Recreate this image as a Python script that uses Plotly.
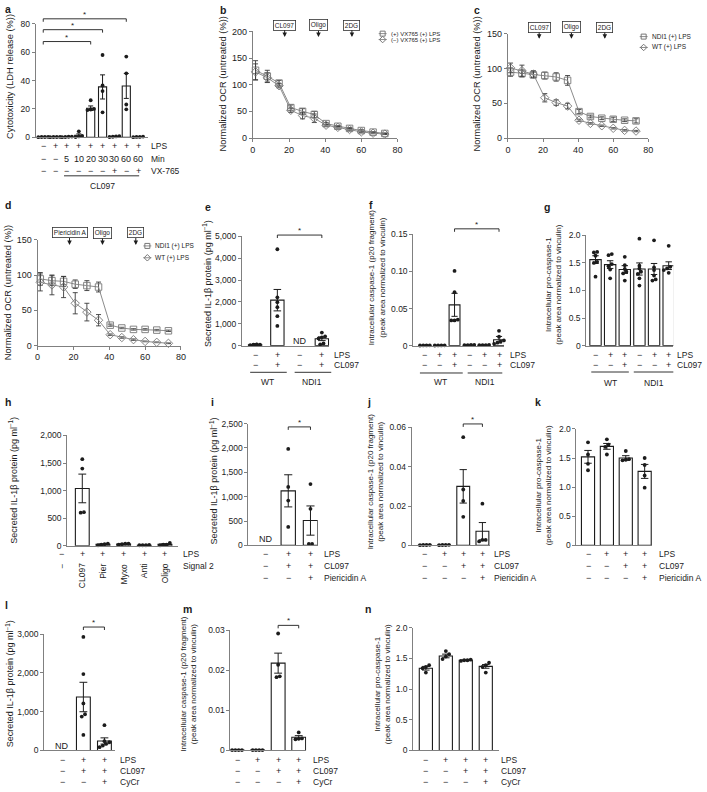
import plotly.graph_objects as go

W, H = 707, 792
FONT = "Liberation Sans, Arial, Helvetica, sans-serif"
AXC = "#808080"
INK = "#1c1c1c"
GLINE = "#8c8c8c"
GMK = "#777777"

# ------------------------------------------------------------------ data
# (a) LDH release
a_lps = ["−", "+", "+", "+", "+", "+", "+", "+", "+"]
a_min = ["−", "−", "5", "10", "20", "30", "30", "60", "60"]
a_vx765 = ["−", "−", "−", "−", "−", "−", "+", "−", "+"]
a_mean = [0.2, 0.2, 0.3, 1.4, 20.5, 35.5, 0.5, 36.2, 0.3]
a_sem = [0.1, 0.1, 0.2, 1.0, 1.6, 8.5, 0.3, 8.8, 0.2]
a_points = [[0.1, 0.2, 0.2, 0.3], [0.1, 0.2, 0.2, 0.3], [0.1, 0.2, 0.4, 0.5],
            [0.2, 0.6, 1.0, 4.2], [19.2, 19.6, 20.0, 26.1], [17.6, 32.6, 36.5, 58.0],
            [0.2, 0.4, 0.6, 0.8], [19.7, 23.1, 45.1, 56.9], [0.1, 0.3, 0.3, 0.5]]

# (b-d) OCR time courses
t_min = [1.5, 8, 14.5, 21, 27.5, 34, 40.5, 47, 53.5, 60, 66.5, 73]
b_vx_pos = [127, 116, 103, 57, 50, 44, 27, 22, 18, 14, 11, 8.5]
b_vx_pos_sem = [18, 11, 5, 5, 5, 6, 2, 1.5, 1.5, 1.5, 1, 1]
b_vx_neg = [124, 113, 98, 52, 42, 37, 24, 20, 16, 11.5, 9, 7.4]
b_vx_neg_sem = [15, 9, 4, 4, 6, 8, 1.5, 1.5, 1.5, 1, 1, 1]
c_ndi1 = [95, 93, 91, 90, 88, 83, 38, 31, 28.5, 27, 25.6, 24.7]
c_ndi1_sem = [6, 5, 4, 5, 6, 7, 3, 2, 2, 3, 2, 3]
c_wt = [101, 97, 92, 58, 51, 46, 25.6, 21, 17.6, 14, 11, 10]
c_wt_sem = [7, 8, 5, 6, 4, 4, 1.5, 1, 1, 1, 1, 1]
d_ndi1 = [94.5, 92, 91, 87, 85, 83, 29, 25, 23, 23, 22, 21]
d_ndi1_sem = [9, 7, 7, 6, 7, 7, 1.5, 1, 1, 1, 1, 1]
d_wt = [89.5, 86, 83, 60, 47.5, 36, 15.5, 11.5, 8.5, 6, 4.7, 3.3]
d_wt_sem = [12, 14, 15, 15, 12.5, 8, 1, 1, 1, 0.5, 0.5, 0.5]

# (e) secreted IL-1b, WT vs NDI1
e_lps = ["−", "+", "−", "+"]
e_cl097 = ["−", "+", "−", "+"]
e_mean = [40, 2080, None, 315]
e_sem = [8, 490, None, 85]
e_points = [[20, 30, 40, 45, 50, 60], [4410, 2210, 1990, 1760, 1350, 900], [],
            [600, 420, 380, 330, 100, 60]]

# (f) caspase-1 p20
f_lps = ["−", "+", "+", "−", "+", "+"]
f_cl097 = ["−", "−", "+", "−", "−", "+"]
f_mean = [0.0003, 0.0003, 0.055, 0.0008, 0.0008, 0.008]
f_sem = [0.0001, 0.0001, 0.0155, 0.0002, 0.0002, 0.0044]
f_points = [[0.0002, 0.0003, 0.0003, 0.0004], [0.0002, 0.0003, 0.0003, 0.0004],
            [0.1007, 0.072, 0.035, 0.034, 0.034], [0.0006, 0.0008, 0.0009, 0.001],
            [0.0006, 0.0008, 0.001, 0.0008], [0.020, 0.012, 0.007, 0.0055, 0.004, 0.0025]]

# (g) pro-caspase-1
g_mean = [1.56, 1.47, 1.38, 1.39, 1.39, 1.45]
g_sem = [0.07, 0.07, 0.07, 0.11, 0.10, 0.07]
g_points = [[1.70, 1.69, 1.63, 1.52, 1.50, 1.25], [1.66, 1.64, 1.48, 1.44, 1.38, 1.22],
            [1.61, 1.46, 1.39, 1.34, 1.31, 1.18], [1.94, 1.45, 1.40, 1.34, 1.30, 1.22, 1.09],
            [1.91, 1.42, 1.37, 1.27, 1.20, 1.18], [1.81, 1.47, 1.43, 1.40, 1.37, 1.32]]

# (h) signal 2 screen
h_lps = ["−", "+", "+", "+", "+", "+"]
h_signal2 = ["−", "CL097", "Pier", "Myxo", "Anti", "Oligo"]
h_mean = [None, 1040, 25, 30, 10, 25]
h_sem = [None, 260, 8, 6, 2, 10]
h_points = [[], [1570, 1400, 610, 600], [10, 40, 20, 30], [20, 40, 30, 40],
            [10, 15, 10, 10], [10, 50, 20, 20]]

# (i-k) piericidin A
pa_lps = ["−", "+", "+"]
pa_cl097 = ["−", "+", "+"]
pa_pier = ["−", "−", "+"]
i_mean = [None, 1120, 510]
i_sem = [None, 330, 300]
i_points = [[], [1980, 1200, 920, 380], [1260, 750, 30, 30]]
p4_lps = ["−", "+", "+", "+"]
p4_cl097 = ["−", "−", "+", "+"]
p4_third = ["−", "−", "−", "+"]
j_mean = [0.0002, 0.0002, 0.030, 0.0072]
j_sem = [0.0001, 0.0001, 0.0085, 0.0044]
j_points = [[0.0002, 0.0001, 0.0003, 0.0002], [0.0002, 0.0001, 0.0003, 0.0002],
            [0.055, 0.0284, 0.0226, 0.0145], [0.0212, 0.0028, 0.0028, 0.002]]
k_mean = [1.52, 1.70, 1.50, 1.27]
k_sem = [0.11, 0.05, 0.04, 0.12]
k_points = [[1.77, 1.56, 1.40, 1.29], [1.82, 1.73, 1.69, 1.56], [1.62, 1.48, 1.47, 1.46],
            [1.50, 1.38, 1.20, 0.99]]

# (l-n) CyCr
l_mean = [None, 1380, 245]
l_sem = [None, 380, 80]
l_points = [[], [2932, 1972, 1215, 935, 875, 400], [654, 240, 212, 170, 127, 85]]
m_mean = [0.0001, 0.0001, 0.0218, 0.0033]
m_sem = [0.0, 0.0, 0.0025, 0.0004]
m_points = [[0.0001, 0.0001, 0.0001, 0.0001], [0.0001, 0.0001, 0.0001, 0.0001],
            [0.0292, 0.0214, 0.0185, 0.0183], [0.0045, 0.003, 0.0029, 0.0028]]
n_mean = [1.34, 1.54, 1.47, 1.37]
n_sem = [0.03, 0.03, 0.006, 0.03]
n_points = [[1.39, 1.36, 1.34, 1.27], [1.62, 1.57, 1.53, 1.49], [1.48, 1.47, 1.47, 1.46],
            [1.43, 1.39, 1.36, 1.27]]

# ------------------------------------------------------------------ helpers
fig = go.Figure()
layout = dict(width=W, height=H, margin=dict(l=0, r=0, t=0, b=0), paper_bgcolor="white",
              plot_bgcolor="rgba(0,0,0,0)", showlegend=False,
              font=dict(family=FONT, size=9, color=INK))
annotations, shapes = [], []
n_ax = [0]


def X(px):
    return px / W


def Y(py):
    return 1 - py / H


def text(px, py, s, size=9, xa="center", ya="middle", angle=0):
    annotations.append(dict(x=X(px), y=Y(py), xref="paper", yref="paper", text=s, showarrow=False,
                            xanchor=xa, yanchor=ya, textangle=angle,
                            font=dict(family=FONT, size=size, color=INK)))


def letter(px, py, s):
    text(px, py, "<b>%s</b>" % s, size=10.5, xa="left")


def hline(x0, x1, py, color=INK, w=0.9):
    shapes.append(dict(type="line", xref="paper", yref="paper", x0=X(x0), x1=X(x1), y0=Y(py),
                       y1=Y(py), line=dict(color=color, width=w)))


def bracket(x0, x1, py):
    shapes.append(dict(type="path", xref="paper", yref="paper",
                       path="M%f,%f L%f,%f L%f,%f L%f,%f" % (X(x0), Y(py + 3), X(x0), Y(py), X(x1), Y(py),
                                                             X(x1), Y(py + 3)),
                       line=dict(color=INK, width=0.9)))
    text((x0 + x1) / 2, py - 4.5, "*", size=8)


def axes(L, R, ybot, ytop, xr, yr):
    n_ax[0] += 1
    s = "" if n_ax[0] == 1 else str(n_ax[0])
    layout["xaxis" + s] = dict(domain=[X(L), X(R)], range=xr, anchor="y" + s, showline=True,
                               linecolor=AXC, linewidth=1, showgrid=False, zeroline=False,
                               showticklabels=False, ticks="", fixedrange=True)
    layout["yaxis" + s] = dict(domain=[Y(ybot), Y(ytop)], range=yr, anchor="x" + s, showline=True,
                               linecolor=AXC, linewidth=1, showgrid=False, zeroline=False,
                               ticks="outside", ticklen=3, tickwidth=1, tickcolor=AXC,
                               tickfont=dict(size=8.5, family=FONT, color=INK), fixedrange=True)
    return "x" + s, "y" + s, s


def swarm(groups, step, ppu, d=3.3):
    xs, ys = [], []
    for i, pts in enumerate(groups):
        clusters = []
        for v in sorted(pts):
            if clusters and (v - clusters[-1][-1]) * ppu < d * 0.8 and len(clusters[-1]) < 4:
                clusters[-1].append(v)
            else:
                clusters.append([v])
        for cl in clusters:
            m = len(cl)
            for j, v in enumerate(cl):
                xs.append(i + (j - (m - 1) / 2) * d / step)
                ys.append(v)
    return xs, ys


def bar_panel(geo, mean, sem, pts, tv, tt):
    L, R, c0, step, y0, yt, ymax, bw = geo
    xa, ya, s = axes(L, R, y0, yt, [(L - c0) / step, (R - c0) / step], [0, ymax])
    layout["yaxis" + s].update(tickvals=tv, ticktext=tt)
    fig.add_trace(go.Bar(x=list(range(len(mean))), y=mean, width=bw / step,
                         marker=dict(color="white", line=dict(color=INK, width=1.1)),
                         error_y=dict(type="data", array=sem, color=INK, thickness=1,
                                      width=max(2.5, bw * 0.28)),
                         xaxis=xa, yaxis=ya))
    xs, ys = swarm(pts, step, (y0 - yt) / ymax)
    fig.add_trace(go.Scatter(x=xs, y=ys, mode="markers", marker=dict(size=3.8, color=INK),
                             cliponaxis=False, xaxis=xa, yaxis=ya))
    return lambda i: c0 + step * i, xa


def rows(cx, rowlist, ys, labels, lx, lsize=8.5):
    for r, py, lab in zip(rowlist, ys, labels):
        for i, sgn in enumerate(r):
            text(cx(i), py, sgn, size=9)
        text(lx, py, lab, size=lsize, xa="left")


def line_panel(geo, series, ymax, tv):
    L, R, y0, yt = geo
    xa, ya, s = axes(L, R, y0, yt, [0, 80], [0, ymax])
    layout["xaxis" + s].update(showticklabels=True, ticks="outside", ticklen=3, tickwidth=1,
                               tickcolor=AXC, tickvals=[0, 20, 40, 60, 80],
                               tickfont=dict(size=9, family=FONT, color=INK))
    layout["yaxis" + s].update(tickvals=tv, tickfont=dict(size=9, family=FONT, color=INK))
    for vals, err, sym in series:
        fig.add_trace(go.Scatter(x=t_min, y=vals, mode="lines+markers",
                                 error_y=dict(type="data", array=err, color="#3a3a3a", thickness=0.9,
                                              width=2.5),
                                 line=dict(color=GLINE, width=1),
                                 marker=dict(symbol=sym, size=6.5, color=GMK, line=dict(width=0.9)),
                                 cliponaxis=False, xaxis=xa, yaxis=ya))
    return xa


def box_arrow(xa, xval, tip_py, center_py, label):
    annotations.append(dict(x=xval, y=Y(tip_py), xref=xa, yref="paper", text=label, showarrow=True,
                            ax=0, ay=-(tip_py - center_py), arrowhead=2, arrowsize=0.9, arrowwidth=1,
                            arrowcolor=INK, bordercolor="#333", borderwidth=0.8, borderpad=1,
                            bgcolor="white", font=dict(family=FONT, size=6.5, color=INK)))


legend_items = []


def legend(px, py, sym, label, size=6.3):
    legend_items.append((px, py, sym))
    text(px + 6, py, label, size=size, xa="left")


# ------------------------------------------------------------------ (a)
cx, xa = bar_panel((33, 147, 40.7, 12.0, 134, 19, 80, 8.2), a_mean, a_sem, a_points,
                   [0, 20, 40, 60, 80], ["0", "20", "40", "60", "80"])
rows(cx, [a_lps, a_min, a_vx765], [143, 156, 168], ["LPS", "Min", "VX-765"], 148)
hline(cx(2) - 3, cx(8) + 1, 173)
text((cx(2) + cx(8)) / 2, 183, "CL097", size=8.5)
bracket(cx(0), cx(4), 37)
bracket(cx(0), cx(5), 25)
bracket(cx(0), cx(7), 14)
letter(0, 4, "a")
text(7, 72, "Cytotoxicity (LDH release (%))", size=9.3, angle=-90)

# ------------------------------------------------------------------ (b)
xa = line_panel((252.7, 399, 134.7, 26.7),
                [(b_vx_pos, b_vx_pos_sem, "square-open"), (b_vx_neg, b_vx_neg_sem, "diamond-open")],
                200, [0, 50, 100, 150, 200])
box_arrow(xa, 17.6, 32.3, 20.5, "CL097")
box_arrow(xa, 36.3, 32.3, 20.5, "Oligo")
box_arrow(xa, 54.8, 32.3, 20.5, "2DG")
legend(384, 29, "square-open", "(+) VX765 (+) LPS", 6)
legend(384, 35, "diamond-open", "(−) VX765 (+) LPS", 6)
letter(217, 5, "b")
text(223, 80, "Normalized OCR (untreated (%))", size=9.3, angle=-90)

# ------------------------------------------------------------------ (c)
xa = line_panel((510.7, 652.7, 134.7, 29.3),
                [(c_ndi1, c_ndi1_sem, "square-open"), (c_wt, c_wt_sem, "diamond-open")],
                150, [0, 50, 100, 150])
box_arrow(xa, 17.8, 34.3, 22.8, "CL097")
box_arrow(xa, 36.2, 34.3, 22.8, "Oligo")
box_arrow(xa, 55.2, 34.3, 22.8, "2DG")
legend(648, 32, "square-open", "NDI1 (+) LPS", 6.5)
legend(648, 43, "diamond-open", "WT (+) LPS", 6.5)
letter(474, 5, "c")
text(479, 80, "Normalized OCR (untreated (%))", size=9.3, angle=-90)

# ------------------------------------------------------------------ (d)
xa = line_panel((35, 180, 345, 237.7),
                [(d_ndi1, d_ndi1_sem, "square-open"), (d_wt, d_wt_sem, "diamond-open")],
                150, [0, 50, 100, 150])
box_arrow(xa, 17.8, 243, 231, "Piericidin A")
box_arrow(xa, 36.2, 243, 231, "Oligo")
box_arrow(xa, 54.8, 243, 231, "2DG")
legend(146, 244, "square-open", "NDI1 (+) LPS", 6.5)
legend(146, 256, "diamond-open", "WT (+) LPS", 6.5)
letter(0, 203, "d")
text(5, 291, "Normalized OCR (untreated (%))", size=9.3, angle=-90)

# ------------------------------------------------------------------ (e)
cx, xa = bar_panel((241.7, 330, 255, 22.5, 345, 234.3, 5000, 13.5), e_mean, e_sem, e_points,
                   [0, 1000, 2000, 3000, 4000, 5000], ["0", "1,000", "2,000", "3,000", "4,000", "5,000"])
rows(cx, [e_lps, e_cl097], [354, 365], ["LPS", "CL097"], 333)
hline(250, 287, 372)
hline(295, 332, 372)
text(268, 382, "WT", size=8.5)
text(313, 382, "NDI1", size=8.5)
text(cx(2), 340, "ND")
bracket(cx(1), cx(3), 233)
letter(202, 205, "e")
text(207, 282, "Secreted IL-1β protein (pg ml<sup>−1</sup>)", size=9, angle=-90)

# ------------------------------------------------------------------ (f)
cx, xa = bar_panel((415, 506.7, 426.7, 15.0, 345, 232.3, 0.15, 11), f_mean, f_sem, f_points,
                   [0, 0.05, 0.10, 0.15], ["0", "0.05", "0.10", "0.15"])
rows(cx, [f_lps, f_cl097], [354, 365], ["LPS", "CL097"], 510.7)
hline(421.7, 465, 372.7)
hline(470, 505, 372.7)
text(443, 382, "WT", size=8.5)
text(488, 382, "NDI1", size=8.5)
bracket(cx(2), cx(5), 226.7)
letter(368, 203, "f")
text(378, 276, "Intracellular caspase-1 (p20 fragment)<br>(peak area normalized to vinculin)",
     size=8, angle=-90)

# ------------------------------------------------------------------ (g)
cx, xa = bar_panel((590, 678, 599.3, 14.8, 345, 233.3, 2.0, 11.5), g_mean, g_sem, g_points,
                   [0, 0.5, 1.0, 1.5, 2.0], ["0", "0.5", "1.0", "1.5", "2.0"])
rows(cx, [f_lps, f_cl097], [354, 365], ["LPS", "CL097"], 680, lsize=8.5)
hline(595, 633, 371.7)
hline(638, 678, 371.7)
text(614, 382.7, "WT", size=8.5)
text(658, 382.7, "NDI1", size=8.5)
letter(545, 205, "g")
text(556.5, 283, "Intracellular pro-caspase-1<br>(peak area normalized to vinculin)", size=8, angle=-90)

# ------------------------------------------------------------------ (h)
cx, xa = bar_panel((65, 176.7, 59.3, 20.9, 547.7, 436, 2000, 14), h_mean, h_sem, h_points,
                   [0, 500, 1000, 1500, 2000], ["0", "500", "1,000", "1,500", "2,000"])
for i, sgn in enumerate(h_lps):
    text(cx(i), 555.7, sgn, size=9)
for i, lab in enumerate(h_signal2):
    text(cx(i), 563.5, lab, size=8.5, ya="top", angle=-90)
text(180, 555.7, "LPS", size=8.5, xa="left")
text(180, 568.3, "Signal 2", size=8.5, xa="left")
letter(0, 402, "h")
text(10, 481, "Secreted IL-1β protein (pg ml<sup>−1</sup>)", size=9, angle=-90)

# ------------------------------------------------------------------ (i)
cx, xa = bar_panel((248.3, 318.3, 266, 22.5, 547.3, 424, 2500, 14.5), i_mean, i_sem, i_points,
                   [0, 500, 1000, 1500, 2000, 2500], ["0", "500", "1,000", "1,500", "2,000", "2,500"])
rows(cx, [pa_lps, pa_cl097, pa_pier], [556, 568.3, 580], ["LPS", "CL097", "Piericidin A"], 323)
text(cx(0), 541, "ND")
bracket(cx(1), cx(2), 427.3)
letter(208, 402, "i")
text(213, 482, "Secreted IL-1β protein (pg ml<sup>−1</sup>)", size=9, angle=-90)

# ------------------------------------------------------------------ (j)
cx, xa = bar_panel((413.3, 493, 426.7, 19.4, 547.3, 427.7, 0.06, 13), j_mean, j_sem, j_points,
                   [0, 0.02, 0.04, 0.06], ["0", "0.02", "0.04", "0.06"])
rows(cx, [p4_lps, p4_cl097, p4_third], [556, 568.3, 580], ["LPS", "CL097", "Piericidin A"], 495)
bracket(cx(2), cx(3), 424.3)
letter(366, 402, "j")
text(376.7, 482, "Intracellular caspase-1 (p20 fragment)<br>(peak area normalized to vinculin)",
     size=8, angle=-90)

# ------------------------------------------------------------------ (k)
cx, xa = bar_panel((580, 656.7, 591.7, 19.1, 547.3, 429.3, 2.0, 13.3), k_mean, k_sem, k_points,
                   [0, 0.5, 1.0, 1.5, 2.0], ["0", "0.5", "1.0", "1.5", "2.0"])
rows(cx, [p4_lps, p4_cl097, p4_third], [556, 568.3, 580], ["LPS", "CL097", "Piericidin A"], 661.5)
letter(536, 402, "k")
text(546.7, 487, "Intracellular pro-caspase-1<br>(peak area normalized to vinculin)", size=8, angle=-90)

# ------------------------------------------------------------------ (l)
BOT = [764.5, 775.7, 786.5]
cx, xa = bar_panel((41.7, 113.3, 60, 21.3, 755, 637.3, 3000, 14), l_mean, l_sem, l_points,
                   [0, 1000, 2000, 3000], ["0", "1,000", "2,000", "3,000"])
rows(cx, [pa_lps, pa_cl097, pa_pier], BOT, ["LPS", "CL097", "CyCr"], 116.7)
text(cx(0), 750.7, "ND")
bracket(cx(1), cx(2), 630)
letter(0, 608, "l")
text(7, 687, "Secreted IL-1β protein (pg ml<sup>−1</sup>)", size=9, angle=-90)

# ------------------------------------------------------------------ (m)
cx, xa = bar_panel((230, 306.7, 236.7, 20.8, 755, 633.3, 0.03, 14), m_mean, m_sem, m_points,
                   [0, 0.01, 0.02, 0.03], ["0", "0.01", "0.02", "0.03"])
rows(cx, [p4_lps, p4_cl097, p4_third], BOT, ["LPS", "CL097", "CyCr"], 311.7)
bracket(cx(2), cx(3), 628.3)
letter(180, 612, "m")
text(187.5, 687, "Intracellular caspase-1 (p20 fragment)<br>(peak area normalized to vinculin)",
     size=8, angle=-90)

# ------------------------------------------------------------------ (n)
cx, xa = bar_panel((415, 501.7, 427.7, 20.2, 755, 630.7, 2.0, 13.3), n_mean, n_sem, n_points,
                   [0, 0.5, 1.0, 1.5, 2.0], ["0", "0.5", "1.0", "1.5", "2.0"])
rows(cx, [p4_lps, p4_cl097, p4_third], BOT, ["LPS", "CL097", "CyCr"], 501.7)
letter(364, 612, "n")
text(383.3, 688, "Intracellular pro-caspase-1<br>(peak area normalized to vinculin)", size=8, angle=-90)

# ------------------------------------------------------------------ legend symbols (pixel overlay)
n_ax[0] += 1
s = str(n_ax[0])
layout["xaxis" + s] = dict(domain=[0, 1], range=[0, W], visible=False, fixedrange=True, anchor="y" + s)
layout["yaxis" + s] = dict(domain=[0, 1], range=[H, 0], visible=False, fixedrange=True, anchor="x" + s)
for px, py, sym in legend_items:
    fig.add_trace(go.Scatter(x=[px - 4, px + 4], y=[py, py], mode="lines",
                             line=dict(color=GLINE, width=1), xaxis="x" + s, yaxis="y" + s))
    fig.add_trace(go.Scatter(x=[px], y=[py], mode="markers",
                             marker=dict(symbol=sym, size=5, color=GMK, line=dict(width=1)),
                             xaxis="x" + s, yaxis="y" + s))

layout["annotations"] = annotations
layout["shapes"] = shapes
fig.update_layout(**layout)
fig.write_html("out.html", config={"displayModeBar": False, "staticPlot": True},
               post_script="document.body.style.margin='0px';")
